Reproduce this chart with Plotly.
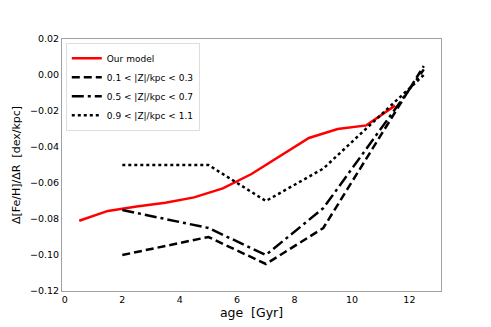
import plotly.graph_objects as go

# our model
model_age = [0.5, 1.5, 2.5, 3.5, 4.5, 5.5, 6.5, 7.5, 8.5, 9.5, 10.5, 11.5]
model_grad = [-0.081, -0.0755, -0.073, -0.071, -0.068, -0.063, -0.055, -0.045, -0.035, -0.030, -0.028, -0.017]

# observed bins in |Z|
obs_age = [2, 5, 7, 9, 12.5]
grad_z01 = [-0.100, -0.090, -0.105, -0.085, 0.005]
grad_z05 = [-0.075, -0.085, -0.100, -0.074, 0.003]
grad_z09 = [-0.050, -0.050, -0.070, -0.052, 0.000]

font = "DejaVu Sans"

fig = go.Figure()

fig.add_trace(go.Scatter(x = model_age, y = model_grad, mode = "lines", name = "Our model",
                         line = dict(color = "red", width = 2.5)))
fig.add_trace(go.Scatter(x = obs_age, y = grad_z01, mode = "lines", name = "0.1 < |Z|/kpc < 0.3",
                         line = dict(color = "black", width = 2.5, dash = "8px,4px")))
fig.add_trace(go.Scatter(x = obs_age, y = grad_z05, mode = "lines", name = "0.5 < |Z|/kpc < 0.7",
                         line = dict(color = "black", width = 2.5, dash = "12px,4px,3px,4px")))
fig.add_trace(go.Scatter(x = obs_age, y = grad_z09, mode = "lines", name = "0.9 < |Z|/kpc < 1.1",
                         line = dict(color = "black", width = 2.5, dash = "3px,3px")))

# the page body adds an 8px offset, so margins are shifted to compensate
fig.update_layout(
    width = 491, height = 327,
    margin = dict(l = 54, r = 58, t = 31, b = 44),
    plot_bgcolor = "white", paper_bgcolor = "white",
    font = dict(family = font, color = "black", size = 10),
    legend = dict(x = 0.01, y = 0.985, xanchor = "left", yanchor = "top",
                  bgcolor = "rgba(255,255,255,0.8)", bordercolor = "#dddddd", borderwidth = 1,
                  font = dict(size = 9), tracegroupgap = 0, itemwidth = 30),
)

fig.update_xaxes(range = [-0.1, 13.1], tickvals = [0, 2, 4, 6, 8, 10, 12], automargin = False,
                 showgrid = False, zeroline = False, showline = True, linecolor = "#a0a0a0",
                 linewidth = 1, mirror = True, ticks = "", tickfont = dict(size = 9.5),
                 title = dict(text = "age  [Gyr]", font = dict(size = 12.5), standoff = 0))
fig.update_yaxes(range = [-0.12, 0.02], tickvals = [-0.12, -0.10, -0.08, -0.06, -0.04, -0.02, 0.00, 0.02],
                 tickformat = ".2f", automargin = False,
                 showgrid = False, zeroline = False, showline = True, linecolor = "#a0a0a0",
                 linewidth = 1, mirror = True, ticks = "", tickfont = dict(size = 9.5),
                 title = dict(text = "Δ[Fe/H]/ΔR  [dex/kpc]", font = dict(size = 11), standoff = 7))

fig.write_html("out.html")
